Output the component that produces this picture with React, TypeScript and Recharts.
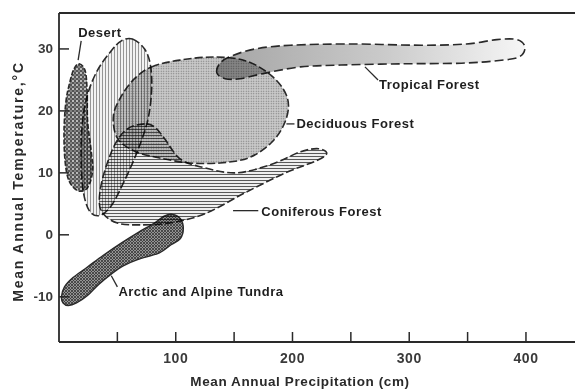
import React from 'react';
import { ComposedChart, Scatter, XAxis, YAxis } from 'recharts';

type Pt = { x: number; y: number };

// axis ticks
const precipTicks = [50, 100, 150, 200, 250, 300, 350, 400];
const precipLabels = [100, 200, 300, 400];
const tempTicks = [-10, 0, 10, 20, 30];

// biome outlines (precipitation cm, temperature C)
const desert: Pt[] = [
    { x: 17.2, y: 27.6 }, { x: 22.4, y: 26.5 }, { x: 24.1, y: 23.2 }, { x: 24.5, y: 18.4 },
    { x: 27.6, y: 13.5 }, { x: 28.8, y: 10.3 }, { x: 24.5, y: 7.6 }, { x: 16.4, y: 7.1 },
    { x: 8.6, y: 8.7 }, { x: 5.2, y: 11.9 }, { x: 4.3, y: 16.8 }, { x: 6.0, y: 21.6 },
    { x: 9.5, y: 24.8 }, { x: 12.9, y: 26.8 },
];

const grassland: Pt[] = [
    { x: 62.9, y: 31.6 }, { x: 73.3, y: 30.0 }, { x: 78.4, y: 27.3 }, { x: 79.3, y: 23.2 },
    { x: 75.9, y: 18.4 }, { x: 67.2, y: 13.5 }, { x: 56.0, y: 8.7 }, { x: 44.8, y: 4.7 },
    { x: 34.5, y: 3.1 }, { x: 25.9, y: 3.9 }, { x: 20.7, y: 7.1 }, { x: 19.0, y: 11.9 },
    { x: 19.8, y: 17.6 }, { x: 24.1, y: 22.4 }, { x: 32.8, y: 26.5 }, { x: 44.8, y: 29.7 },
    { x: 53.4, y: 31.3 },
];

const deciduous: Pt[] = [
    { x: 79.3, y: 27.1 }, { x: 103.4, y: 28.2 }, { x: 133.6, y: 28.7 }, { x: 159.5, y: 28.1 },
    { x: 179.3, y: 26.1 }, { x: 192.2, y: 23.5 }, { x: 196.6, y: 20.8 }, { x: 192.2, y: 17.6 },
    { x: 181.0, y: 14.7 }, { x: 162.1, y: 12.4 }, { x: 137.9, y: 11.6 }, { x: 112.1, y: 11.6 },
    { x: 86.2, y: 12.4 }, { x: 64.7, y: 13.5 }, { x: 50.0, y: 15.6 }, { x: 46.6, y: 19.2 },
    { x: 53.4, y: 22.4 }, { x: 64.7, y: 25.2 },
];

const tropical: Pt[] = [
    { x: 135.3, y: 26.1 }, { x: 137.9, y: 27.7 }, { x: 148.3, y: 28.9 }, { x: 168.1, y: 30.0 },
    { x: 198.3, y: 30.6 }, { x: 250.0, y: 30.8 }, { x: 310.3, y: 30.6 }, { x: 349.1, y: 30.8 },
    { x: 375.0, y: 31.5 }, { x: 392.2, y: 31.5 }, { x: 399.1, y: 30.3 }, { x: 394.0, y: 28.7 },
    { x: 375.0, y: 28.1 }, { x: 344.8, y: 27.7 }, { x: 293.1, y: 27.6 }, { x: 241.4, y: 27.4 },
    { x: 206.9, y: 27.1 }, { x: 176.7, y: 26.1 }, { x: 155.2, y: 25.2 }, { x: 142.2, y: 25.2 },
];

const coniferous: Pt[] = [
    { x: 73.3, y: 17.9 }, { x: 58.6, y: 17.1 }, { x: 47.4, y: 14.4 }, { x: 37.9, y: 9.5 },
    { x: 34.5, y: 5.5 }, { x: 37.9, y: 3.4 }, { x: 50.0, y: 1.9 }, { x: 69.0, y: 1.6 },
    { x: 94.8, y: 1.9 }, { x: 125.0, y: 3.4 }, { x: 159.5, y: 6.8 }, { x: 194.0, y: 10.0 },
    { x: 219.8, y: 11.9 }, { x: 229.3, y: 13.1 }, { x: 222.4, y: 13.9 }, { x: 206.9, y: 13.4 },
    { x: 181.0, y: 11.3 }, { x: 150.9, y: 10.0 }, { x: 120.7, y: 11.0 }, { x: 103.4, y: 12.3 },
    { x: 90.5, y: 15.5 }, { x: 81.9, y: 17.4 },
];

const tundra: Pt[] = [
    { x: 2.1, y: -10.0 }, { x: 4.7, y: -8.4 }, { x: 12.0, y: -6.9 }, { x: 24.4, y: -5.2 },
    { x: 38.0, y: -3.3 }, { x: 53.6, y: -1.3 }, { x: 68.0, y: 0.4 }, { x: 81.8, y: 1.9 },
    { x: 90.0, y: 3.0 }, { x: 97.0, y: 3.3 }, { x: 104.0, y: 2.6 }, { x: 106.5, y: 1.0 },
    { x: 104.0, y: -0.6 }, { x: 96.0, y: -1.6 }, { x: 86.0, y: -2.9 }, { x: 67.3, y: -4.0 },
    { x: 55.0, y: -5.0 }, { x: 45.0, y: -6.3 }, { x: 34.0, y: -8.0 }, { x: 24.4, y: -9.8 },
    { x: 15.0, y: -11.0 }, { x: 8.0, y: -11.4 }, { x: 3.5, y: -11.0 },
];

// labels and their leader lines
const labels = [
    { x: 16.4, y: 32.6, text: 'Desert' },
    { x: 274.1, y: 24.2, text: 'Tropical Forest' },
    { x: 203.4, y: 17.9, text: 'Deciduous Forest' },
    { x: 173.3, y: 3.7, text: 'Coniferous Forest' },
    { x: 50.9, y: -9.2, text: 'Arctic and Alpine Tundra' },
];

const desertLeader: Pt[] = [{ x: 19.0, y: 31.3 }, { x: 16.4, y: 28.2 }];
const tropicalLeader: Pt[] = [{ x: 262.1, y: 27.1 }, { x: 273.3, y: 25.0 }];
const deciduousLeader: Pt[] = [{ x: 194.8, y: 17.9 }, { x: 201.7, y: 17.9 }];
const coniferousLeader: Pt[] = [{ x: 149.1, y: 3.9 }, { x: 170.7, y: 3.9 }];
const tundraLeader: Pt[] = [{ x: 44.8, y: -6.6 }, { x: 50.0, y: -8.4 }];

const INK = '#2a2a2a';
const FONT = '"Liberation Sans", Arial, sans-serif';

// closed catmull-rom through the outline points
const closedPath = (pts: { x: number; y: number }[]) => {
    const n = pts.length;
    if (!n) return '';
    let d = `M${pts[0].x},${pts[0].y}`;
    for (let i = 0; i < n; i++) {
        const p0 = pts[(i - 1 + n) % n];
        const p1 = pts[i];
        const p2 = pts[(i + 1) % n];
        const p3 = pts[(i + 2) % n];
        const c1x = p1.x + (p2.x - p0.x) / 6;
        const c1y = p1.y + (p2.y - p0.y) / 6;
        const c2x = p2.x - (p3.x - p1.x) / 6;
        const c2y = p2.y - (p3.y - p1.y) / 6;
        d += ` C${c1x},${c1y} ${c2x},${c2y} ${p2.x},${p2.y}`;
    }
    return d + 'Z';
};

const regionLine = (fill: string, dash: string, width = 1.6) => (p: any) => (
    <path
        d={closedPath(p.points || [])}
        fill={fill}
        stroke={INK}
        strokeWidth={width}
        strokeDasharray={dash}
        style={{ mixBlendMode: 'multiply' }}
    />
);

const leaderLine = (p: any) => {
    const pts = p.points || [];
    if (pts.length < 2) return <g />;
    return <line x1={pts[0].x} y1={pts[0].y} x2={pts[1].x} y2={pts[1].y} stroke={INK} strokeWidth={1.3} />;
};

const noShape = () => <g />;

const LabelText = (props: any) => {
    const { cx, cy, payload } = props;
    return (
        <text x={cx} y={cy} dominantBaseline="central" fontFamily={FONT} fontWeight={700} fontSize={13} letterSpacing={0.5} fill="#1e1e1e">
            {payload?.text}
        </text>
    );
};

const BottomTick = (props: any) => {
    const { x, y, payload } = props;
    const v = payload.value;
    return (
        <g>
            <line x1={x} y1={y} x2={x} y2={y - 10} stroke={INK} strokeWidth={1.5} />
            {precipLabels.includes(v) && (
                <text x={x} y={y + 16} textAnchor="middle" dominantBaseline="central" fontFamily={FONT} fontWeight={700} fontSize={14} letterSpacing={0.6} fill="#3a3a3a">
                    {v}
                </text>
            )}
        </g>
    );
};

const TopTick = (props: any) => {
    const { x, y } = props;
    return <line x1={x} y1={y} x2={x} y2={y + 10} stroke={INK} strokeWidth={1.5} />;
};

const LeftTick = (props: any) => {
    const { x, y, payload } = props;
    return (
        <g>
            <line x1={x} y1={y} x2={x + 10} y2={y} stroke={INK} strokeWidth={1.5} />
            <text x={x - 6} y={y} textAnchor="end" dominantBaseline="central" fontFamily={FONT} fontWeight={700} fontSize={13.5} fill="#3a3a3a">
                {payload.value}
            </text>
        </g>
    );
};

const XTitle = (props: any) => {
    const vb = props.viewBox || { x: 59, y: 342, width: 516, height: 47 };
    return (
        <text x={vb.x + vb.width / 2 - 17} y={vb.y + 39} textAnchor="middle" dominantBaseline="central" fontFamily={FONT} fontWeight={700} fontSize={13.5} letterSpacing={0.6} fill="#2a2a2a">
            Mean Annual Precipitation (cm)
        </text>
    );
};

const YTitle = (props: any) => {
    const vb = props.viewBox || { x: 0, y: 13, width: 59, height: 329 };
    const cx = vb.x + 18;
    const cy = vb.y + vb.height / 2 + 4;
    return (
        <text x={cx} y={cy} transform={`rotate(-90 ${cx} ${cy})`} textAnchor="middle" dominantBaseline="central" fontFamily={FONT} fontWeight={700} fontSize={14} letterSpacing={1.8} fill="#2a2a2a">
            Mean Annual Temperature,°C
        </text>
    );
};

const Patterns = () => (
    <svg width={0} height={0} style={{ position: 'absolute' }}>
        <defs>
            <pattern id="pDesert" width="4" height="4" patternUnits="userSpaceOnUse">
                <rect width="4" height="4" fill="#555555" />
                <circle cx="1" cy="1" r="0.95" fill="#e6e6e6" />
                <circle cx="3" cy="3" r="0.75" fill="#c4c4c4" />
            </pattern>
            <pattern id="pGrass" width="3" height="3" patternUnits="userSpaceOnUse">
                <rect width="3" height="3" fill="#f2f2f2" />
                <line x1="0.5" y1="0" x2="0.5" y2="3" stroke="#8a8a8a" strokeWidth="0.9" />
            </pattern>
            <pattern id="pDecid" width="2.5" height="2.5" patternUnits="userSpaceOnUse">
                <rect width="2.5" height="2.5" fill="#c9c9c9" />
                <circle cx="1.25" cy="1.25" r="0.65" fill="#747474" />
            </pattern>
            <linearGradient id="gTrop" x1="0" y1="0" x2="1" y2="0">
                <stop offset="0" stopColor="#a4a4a4" />
                <stop offset="0.55" stopColor="#cbcbcb" />
                <stop offset="1" stopColor="#f6f6f6" />
            </linearGradient>
            <pattern id="pConif" width="3" height="3" patternUnits="userSpaceOnUse">
                <rect width="3" height="3" fill="#eeeeee" />
                <line x1="0" y1="0.5" x2="3" y2="0.5" stroke="#5a5a5a" strokeWidth="1" />
            </pattern>
            <pattern id="pTundra" width="3" height="3" patternUnits="userSpaceOnUse">
                <rect width="3" height="3" fill="#949494" />
                <path d="M0,0 L3,3 M3,0 L0,3" stroke="#363636" strokeWidth="0.8" />
            </pattern>
        </defs>
    </svg>
);

export default function App() {
    return (
        <div style={{ position: 'absolute', left: 0, top: 0, width: 575, height: 389, background: '#fff' }}>
            <Patterns />
            <ComposedChart width={575} height={389} margin={{ top: 0, right: 0, bottom: 0, left: 0 }}>
                <XAxis
                    xAxisId="top" orientation="top" type="number" dataKey="x" domain={[0, 442]}
                    ticks={precipTicks} interval={0} height={13} tickSize={0} tickMargin={0} tickLine={false}
                    tick={<TopTick />} axisLine={{ stroke: INK, strokeWidth: 1.8 }}
                />
                <XAxis
                    type="number" dataKey="x" domain={[0, 442]}
                    ticks={precipTicks} interval={0} height={47} tickSize={0} tickMargin={0} tickLine={false}
                    tick={<BottomTick />} axisLine={{ stroke: INK, strokeWidth: 1.8 }}
                    label={(p: any) => <XTitle {...p} />}
                />
                <YAxis
                    type="number" dataKey="y" domain={[-17.3, 35.8]}
                    ticks={tempTicks} interval={0} width={59} tickSize={0} tickMargin={0} tickLine={false}
                    tick={<LeftTick />} axisLine={{ stroke: INK, strokeWidth: 1.8 }}
                    label={(p: any) => <YTitle {...p} />}
                />

                <Scatter data={desert} shape={noShape} line={regionLine('url(#pDesert)', '5 2')} isAnimationActive={false} />
                <Scatter data={grassland} shape={noShape} line={regionLine('url(#pGrass)', '8 3')} isAnimationActive={false} />
                <Scatter data={deciduous} shape={noShape} line={regionLine('url(#pDecid)', '8 3')} isAnimationActive={false} />
                <Scatter data={tropical} shape={noShape} line={regionLine('url(#gTrop)', '9 4')} isAnimationActive={false} />
                <Scatter data={coniferous} shape={noShape} line={regionLine('url(#pConif)', '8 3')} isAnimationActive={false} />
                <Scatter data={tundra} shape={noShape} line={regionLine('url(#pTundra)', '0', 1.4)} isAnimationActive={false} />

                {[desertLeader, tropicalLeader, deciduousLeader, coniferousLeader, tundraLeader].map((ld, i) => (
                    <Scatter key={`leader-${i}`} data={ld} shape={noShape} line={leaderLine} isAnimationActive={false} />
                ))}
                <Scatter data={labels} shape={<LabelText />} isAnimationActive={false} />
            </ComposedChart>
        </div>
    );
}
